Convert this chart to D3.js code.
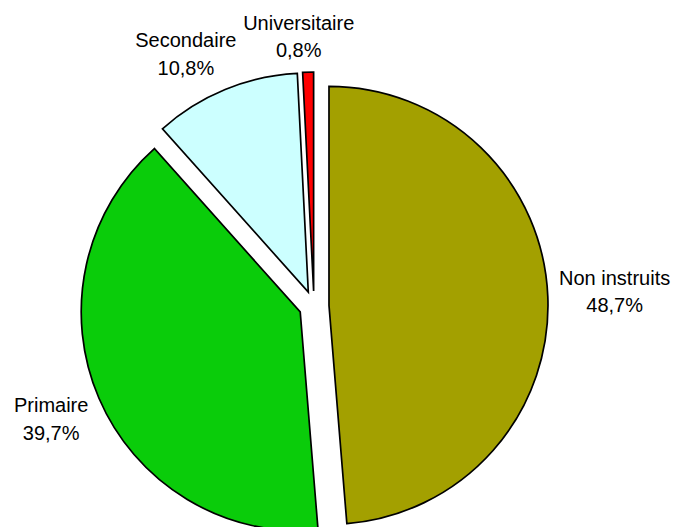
<!DOCTYPE html>
<html>
<head>
<meta charset="utf-8">
<script src="https://cdn.jsdelivr.net/npm/d3@7"></script>
<style>
  body { margin: 0; background: #fff; }
  text { font-family: "Liberation Sans", Arial, sans-serif; font-size: 20px; fill: #000; }
</style>
</head>
<body>
<script>
(function() {

    const width = 677;
    const height = 527;

    // data
    const categories = ["Non instruits", "Primaire", "Secondaire", "Universitaire"];
    const shares = [48.7, 39.7, 10.8, 0.8];
    const colors = ["#A3A000", "#0ACC0A", "#CCFFFF", "#FF0000"];

    // layout
    const cx = 314, cy = 306;
    const radius = 219;
    const explode = 15;
    const labelRadius = [301, 286, 283, 270];   // distance of label block from centre
    const labelShift = [-0.5, 0, -4.6, -1.8];    // degrees, nudge from slice mid angle

    const frFormat = d3.formatLocale({decimal: ",", thousands: " ", grouping: [3], currency: ["", "€"]}).format(".1f");

    let svg = d3.select("body").append("svg")
        .attr("width", width)
        .attr("height", height);

    let pie = d3.pie()
        .sort(null)
        .value(d => d.value);

    let arc = d3.arc()
        .innerRadius(0)
        .outerRadius(radius);

    let rows = categories.map((c, i) => ({name: c, value: shares[i], color: colors[i]}));
    let arcs = pie(rows);

    let g = svg.append("g")
        .attr("transform", "translate(" + cx + "," + cy + ")");

    // exploded slices
    g.selectAll("path")
        .data(arcs)
        .enter()
        .append("path")
        .attr("d", arc)
        .attr("transform", function(d) {
            let mid = (d.startAngle + d.endAngle) / 2;
            return "translate(" + (explode * Math.sin(mid)) + "," + (-explode * Math.cos(mid)) + ")";
        })
        .style("fill", d => d.data.color)
        .style("stroke", "#000")
        .style("stroke-width", 1.7)
        .style("stroke-linejoin", "miter");

    // labels
    let labels = g.selectAll("g.label")
        .data(arcs)
        .enter()
        .append("g")
        .attr("class", "label")
        .attr("transform", function(d, i) {
            let mid = (d.startAngle + d.endAngle) / 2 + labelShift[i] * Math.PI / 180;
            let r = labelRadius[i];
            return "translate(" + (r * Math.sin(mid)) + "," + (-r * Math.cos(mid)) + ")";
        });

    labels.append("text")
        .attr("text-anchor", "middle")
        .attr("y", -6.5)
        .text(d => d.data.name);

    labels.append("text")
        .attr("text-anchor", "middle")
        .attr("y", 21)
        .text(d => frFormat(d.data.value) + "%");

})();
</script>
</body>
</html>
